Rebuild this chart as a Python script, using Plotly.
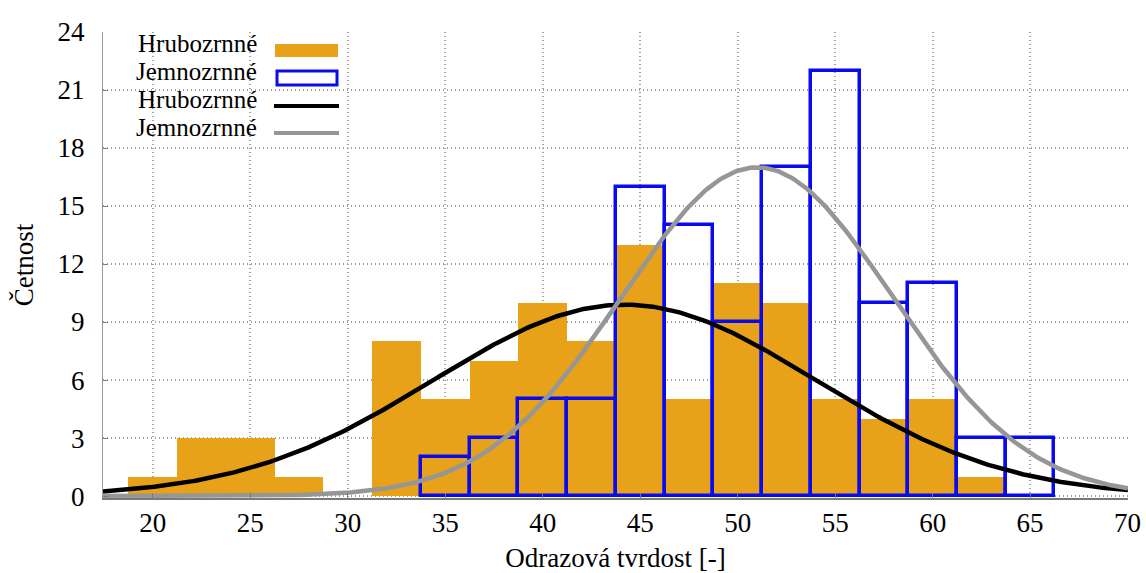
import numpy as np
import plotly.graph_objects as go

# Histogram bins (class centres, width 2.5)
bin_width = 2.5
coarse_centres = [20, 22.5, 25, 27.5, 30, 32.5, 35, 37.5, 40, 42.5, 45, 47.5,
                  50, 52.5, 55, 57.5, 60, 62.5]
coarse_counts = [1, 3, 3, 1, 0, 8, 5, 7, 10, 8, 13, 5, 11, 10, 5, 4, 5, 1]

fine_centres = [35, 37.5, 40, 42.5, 45, 47.5, 50, 52.5, 55, 57.5, 60, 62.5, 65]
fine_counts = [2, 3, 5, 5, 16, 14, 9, 17, 22, 10, 11, 3, 3]

# Fitted normal curves: peak height, mean, standard deviation
coarse_fit = dict(peak=9.9, mean=44.2, sd=9.8)
fine_fit = dict(peak=17.0, mean=51.0, sd=6.95)

x_ticks = [20, 25, 30, 35, 40, 45, 50, 55, 60, 65, 70]
y_ticks = [0, 3, 6, 9, 12, 15, 18, 21, 24]
x_range = [17.45, 70.02]
y_range = [-0.1, 24]

ORANGE = "#E7A21A"
BLUE = "#0A0AEE"
GREY = "#969696"
GRID = "#a0a0a0"
FONT = "Liberation Serif"


def normal_curve(fit, xs):
    return fit["peak"] * np.exp(-((xs - fit["mean"]) ** 2) / (2 * fit["sd"] ** 2))


xs = np.linspace(x_range[0], x_range[1], 400)

fig = go.Figure()
fig.add_trace(go.Bar(x=coarse_centres, y=coarse_counts, width=bin_width,
                     marker=dict(color=ORANGE, line=dict(width=0)),
                     name="Hrubozrnné", showlegend=False))
fig.add_trace(go.Bar(x=fine_centres, y=fine_counts, width=bin_width,
                     marker=dict(color="rgba(0,0,0,0)", line=dict(color=BLUE, width=3.5)),
                     name="Jemnozrnné", showlegend=False))
fig.add_trace(go.Scatter(x=xs, y=normal_curve(coarse_fit, xs), mode="lines",
                         line=dict(color="black", width=4.5),
                         name="Hrubozrnné", showlegend=False))
fig.add_trace(go.Scatter(x=xs, y=normal_curve(fine_fit, xs), mode="lines",
                         line=dict(color=GREY, width=4.5),
                         name="Jemnozrnné", showlegend=False))

# Plot-area geometry in pixels
W, H = 1146, 573
L, R, T, B = 103, 1128, 32, 498


def px(xp):
    return (xp - L) / (R - L)


def py(yp):
    return (B - yp) / (B - T)


shapes = [
    # legend background
    dict(type="rect", xref="paper", yref="paper", x0=px(112), x1=px(352),
         y0=py(141), y1=py(34), fillcolor="white", line=dict(width=0), layer="between"),
    dict(type="rect", xref="paper", yref="paper", x0=px(275), x1=px(338),
         y0=py(57), y1=py(44), fillcolor=ORANGE, line=dict(width=0)),
    dict(type="rect", xref="paper", yref="paper", x0=px(277), x1=px(337),
         y0=py(85), y1=py(71), fillcolor="rgba(0,0,0,0)", line=dict(color=BLUE, width=3)),
    dict(type="line", xref="paper", yref="paper", x0=px(274), x1=px(339),
         y0=py(106), y1=py(106), line=dict(color="black", width=4)),
    dict(type="line", xref="paper", yref="paper", x0=px(274), x1=px(339),
         y0=py(133), y1=py(133), line=dict(color=GREY, width=4)),
]

legend_labels = ["Hrubozrnné", "Jemnozrnné", "Hrubozrnné", "Jemnozrnné"]
legend_rows = [44, 72, 99, 127]
annotations = [
    dict(text=t, xref="paper", yref="paper", x=px(259), y=py(yr),
         xanchor="right", yanchor="middle", showarrow=False,
         font=dict(family=FONT, size=25, color="black"))
    for t, yr in zip(legend_labels, legend_rows)
]

fig.update_layout(
    width=W, height=H,
    margin=dict(l=L, r=W - R, t=T, b=H - B, autoexpand=False),
    paper_bgcolor="white", plot_bgcolor="white",
    barmode="overlay", bargap=0,
    font=dict(family=FONT, size=27, color="black"),
    shapes=shapes, annotations=annotations,
    showlegend=False,
)
fig.update_xaxes(
    range=x_range, tickvals=x_ticks, ticktext=[str(v) for v in x_ticks],
    showgrid=True, gridcolor=GRID, griddash="1px,3px", gridwidth=1.5,
    zeroline=False, showline=True, linecolor="#7a7a7a", linewidth=2,
    ticks="inside", ticklen=5, tickcolor="#7a7a7a",
    ticklabelstandoff=0, automargin=False,
    title=dict(text="Odrazová tvrdost [-]", standoff=21, font=dict(size=27)),
)
fig.update_yaxes(
    range=y_range, tickvals=y_ticks, ticktext=[str(v) for v in y_ticks],
    showgrid=True, gridcolor=GRID, griddash="1px,3px", gridwidth=1.5,
    zeroline=False, showline=True, linecolor="#9a9a9a", linewidth=1,
    ticks="inside", ticklen=5, tickcolor="#7a7a7a",
    ticklabelstandoff=12, automargin=False,
    title=dict(text="Četnost", standoff=16, font=dict(size=27)),
)

fig.write_html("out.html")
